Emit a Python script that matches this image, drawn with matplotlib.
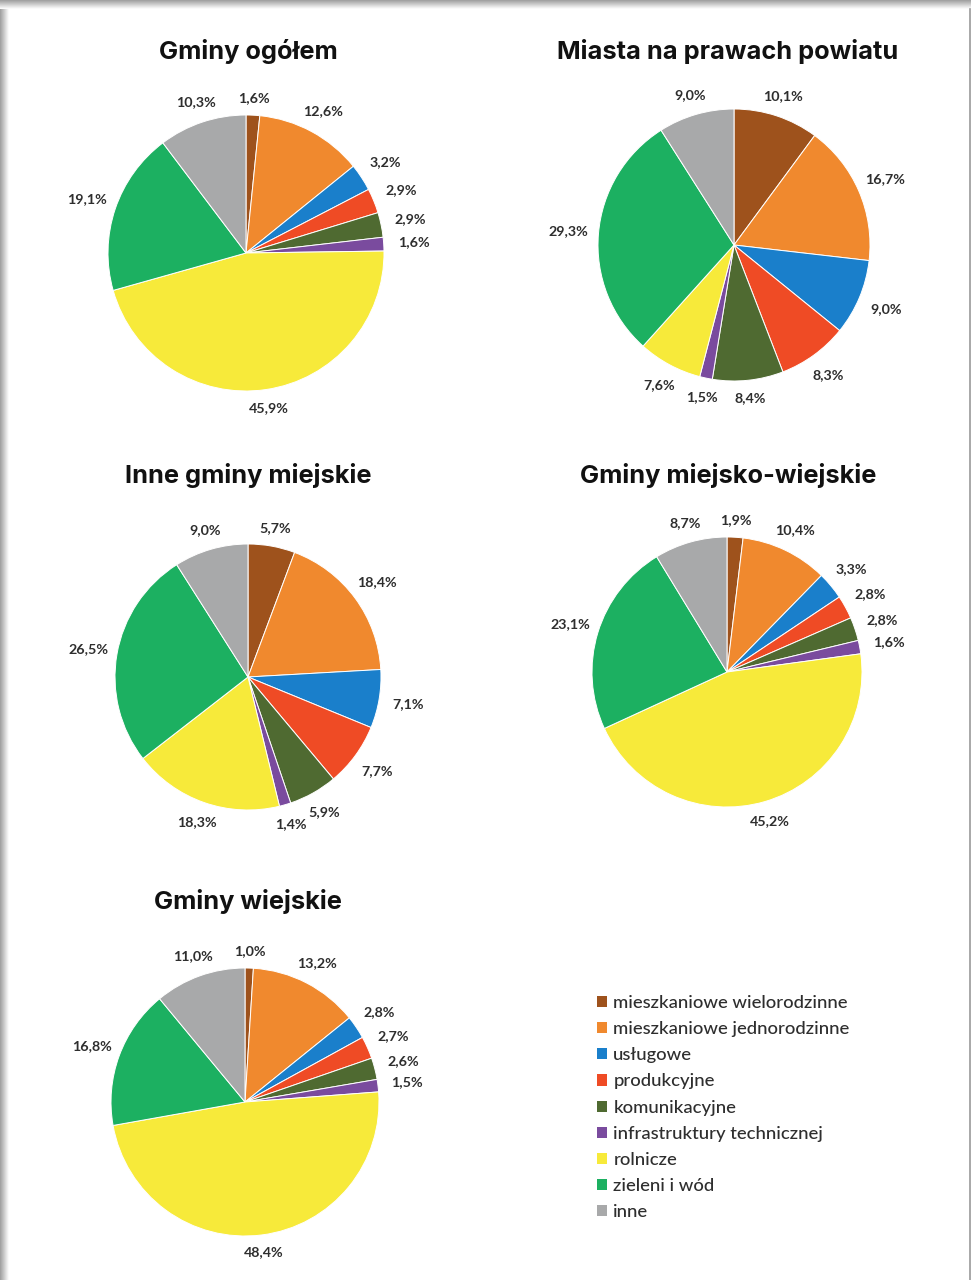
import numpy as np
import matplotlib
matplotlib.use("Agg")
import matplotlib.pyplot as plt
from matplotlib.patches import Patch

W, H = 971, 1280
DPI = 100

categories = ["mieszkaniowe wielorodzinne", "mieszkaniowe jednorodzinne", "usługowe",
              "produkcyjne", "komunikacyjne", "infrastruktury technicznej",
              "rolnicze", "zieleni i wód", "inne"]
colors = ["#9E521C", "#F0892E", "#1A7FCB", "#EF4B25", "#4F6A31", "#7A4B9E",
          "#F7EA3A", "#1CB061", "#A8A9AA"]

titles = ["Gminy ogółem", "Miasta na prawach powiatu", "Inne gminy miejskie",
          "Gminy miejsko-wiejskie", "Gminy wiejskie"]
gminy_ogolem = [1.6, 12.6, 3.2, 2.9, 2.9, 1.6, 45.9, 19.1, 10.3]
miasta_npp = [10.1, 16.7, 9.0, 8.3, 8.4, 1.5, 7.6, 29.3, 9.0]
inne_miejskie = [5.7, 18.4, 7.1, 7.7, 5.9, 1.4, 18.3, 26.5, 9.0]
miejsko_wiejskie = [1.9, 10.4, 3.3, 2.8, 2.8, 1.6, 45.2, 23.1, 8.7]
wiejskie = [1.0, 13.2, 2.8, 2.7, 2.6, 1.5, 48.4, 16.8, 11.0]
series = [gminy_ogolem, miasta_npp, inne_miejskie, miejsko_wiejskie, wiejskie]

# layout (pixel): centre x, centre y, radius, title y
layout = [(246, 253, 138, 51), (734, 245, 136, 51), (248, 677, 133, 476),
          (727, 672, 135, 476), (245, 1102, 134, 902)]
title_x = [248, 728, 248, 728, 248]

fig = plt.figure(figsize=(W / DPI, H / DPI), dpi=DPI)
fig.patch.set_facecolor("white")

# frame with shadow
bg = fig.add_axes([0, 0, 1, 1], zorder=-10)
bg.axis("off")
grad = np.linspace(0.62, 1.0, 40)
bg.imshow(np.tile(grad, (10, 1)), cmap="gray", vmin=0, vmax=1, extent=(0, 9, H, 0), aspect="auto")
bg.imshow(np.tile(grad[:, None], (1, 10)), cmap="gray", vmin=0, vmax=1, extent=(0, W, 9, 0), aspect="auto")
bg.plot([969.5, 969.5], [9, H], color="#9a9a9a", lw=1.2)
bg.set_xlim(0, W)
bg.set_ylim(H, 0)

L = 1.5
for vals, (cx, cy, R, ty), tx, title in zip(series, layout, title_x, titles):
    size = 2 * L * R
    ax = fig.add_axes([(cx - size / 2) / W, 1 - (cy + size / 2) / H, size / W, size / H])
    wedges, _ = ax.pie(vals, colors=colors, startangle=90, counterclock=False,
                       wedgeprops=dict(edgecolor="white", linewidth=0.7))
    ax.set_xlim(-L, L)
    ax.set_ylim(-L, L)
    ax.set_aspect("equal")
    ax.axis("off")
    for w, v in zip(wedges, vals):
        th = np.deg2rad((w.theta1 + w.theta2) / 2)
        r = 1.12 + 0.1 * abs(np.cos(th))
        ax.text(r * np.cos(th), r * np.sin(th), f"{v:.1f}%".replace(".", ","),
                ha="center", va="center", fontsize=10.3, fontweight="bold",
                family="Lato", color="#2e2e2e")
    fig.text(tx / W, 1 - ty / H, title, ha="center", va="center",
             fontsize=18.3, fontweight="bold", family="Inter", color="#111111")

handles = [Patch(facecolor=c, edgecolor="none") for c in colors]
leg = fig.legend(handles, categories, loc="upper left",
                 bbox_to_anchor=(597 / W, 1 - 995 / H), frameon=False,
                 prop=dict(family="Lato", size=13.3, weight="medium"), labelcolor="#2e2e2e",
                 handlelength=0.55, handleheight=0.55, handletextpad=0.33,
                 labelspacing=0.55, borderpad=0, borderaxespad=0)

fig.savefig("out.png", dpi=DPI, facecolor="white")
